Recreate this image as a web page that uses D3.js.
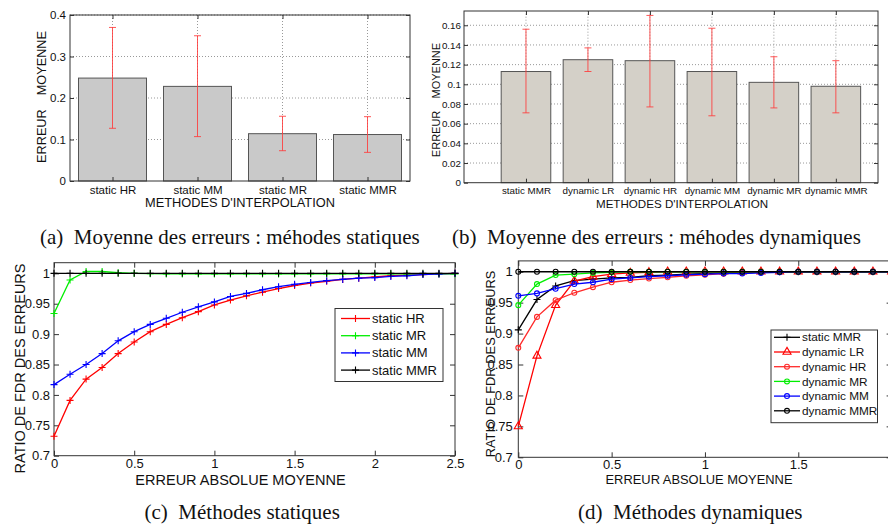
<!DOCTYPE html>
<html>
<head>
<meta charset="utf-8">
<script src="https://cdn.jsdelivr.net/npm/d3@7"></script>
<style>
body{margin:0;background:#fff}
svg{display:block}
text{font-family:"Liberation Sans",Arial,sans-serif;fill:#111}
.cap{font-family:"Liberation Serif","Times New Roman",serif;white-space:pre}
.pre{white-space:pre}
</style>
</head>
<body>
<svg id="fig" width="888" height="524"></svg>
<script>
// ---- données (a) : méthodes statiques
var catsA = ["static HR", "static MM", "static MR", "static MMR"];
var meanA = [0.248, 0.228, 0.114, 0.112];
var lowA  = [0.127, 0.107, 0.073, 0.069];
var highA = [0.370, 0.350, 0.156, 0.155];
var yTicksA = [0, 0.1, 0.2, 0.3, 0.4];
var yLabelsA = ["0", "0.1", "0.2", "0.3", "0.4"];

// ---- données (b) : méthodes dynamiques
var catsB = ["static MMR", "dynamic LR", "dynamic HR", "dynamic MM", "dynamic MR", "dynamic MMR"];
var meanB = [0.113, 0.125, 0.124, 0.113, 0.102, 0.098];
var lowB  = [0.071, 0.113, 0.077, 0.068, 0.076, 0.071];
var highB = [0.156, 0.137, 0.170, 0.157, 0.128, 0.124];
var yTicksB = [0, 0.02, 0.04, 0.06, 0.08, 0.1, 0.12, 0.14, 0.16];
var yLabelsB = ["0", "0.02", "0.04", "0.06", "0.08", "0.1", "0.12", "0.14", "0.16"];

// ---- données (c)
var xsC = [0, 0.1, 0.2, 0.3, 0.4, 0.5, 0.6, 0.7, 0.8, 0.9, 1.0, 1.1, 1.2, 1.3, 1.4, 1.5, 1.6, 1.7, 1.8, 1.9, 2.0, 2.1, 2.2, 2.3, 2.4, 2.5];
var staticHR  = [0.732, 0.791, 0.826, 0.845, 0.868, 0.887, 0.904, 0.916, 0.927, 0.937, 0.948, 0.956, 0.963, 0.969, 0.975, 0.980, 0.984, 0.987, 0.990, 0.992, 0.994, 0.996, 0.997, 0.998, 0.999, 1.000];
var staticMR  = [0.934, 0.989, 1.003, 1.003, 1.001, 1.000, 0.9995, 0.999, 0.999, 0.999, 0.999, 0.999, 0.999, 0.999, 0.999, 0.999, 0.999, 0.999, 0.999, 0.999, 0.999, 0.999, 0.999, 0.999, 0.999, 0.999];
var staticMM  = [0.817, 0.834, 0.850, 0.868, 0.889, 0.904, 0.916, 0.926, 0.936, 0.945, 0.953, 0.962, 0.967, 0.973, 0.978, 0.982, 0.985, 0.988, 0.990, 0.992, 0.993, 0.995, 0.996, 0.998, 0.999, 1.000];
var staticMMR = [1, 1, 1, 1, 1, 1, 1, 1, 1, 1, 1, 1, 1, 1, 1, 1, 1, 1, 1, 1, 1, 1, 1, 1, 1, 1];

// ---- données (d)
var xsD = [0, 0.1, 0.2, 0.3, 0.4, 0.5, 0.6, 0.7, 0.8, 0.9, 1.0, 1.1, 1.2, 1.3, 1.4, 1.5, 1.6, 1.7, 1.8, 1.9, 2.0];
var dStaticMMR = [0.906, 0.955, 0.977, 0.9855, 0.988, 0.990, 0.991, 0.9935, 0.9946, 0.996, 0.997, 0.998, 0.999, 1, 1, 1, 1, 1, 1, 1, 1];
var dynLR  = [0.750, 0.864, 0.946, 0.985, 0.992, 0.996, 0.998, 0.999, 1, 1, 1, 1, 1, 1, 1, 1, 1, 1, 1, 1, 1];
var dynHR  = [0.877, 0.927, 0.954, 0.966, 0.975, 0.983, 0.9865, 0.989, 0.991, 0.9935, 0.995, 0.9968, 0.998, 0.999, 0.9995, 1, 1, 1, 1, 1, 1];
var dynMR  = [0.946, 0.980, 0.9946, 0.996, 0.998, 0.999, 1, 1, 1, 1, 1, 1, 1, 1, 1, 1, 1, 1, 1, 1, 1];
var dynMM  = [0.961, 0.965, 0.9725, 0.980, 0.983, 0.988, 0.990, 0.992, 0.9935, 0.995, 0.996, 0.997, 0.997, 0.998, 0.999, 1, 1, 1, 1, 1, 1];
var dynMMR = [1, 1, 1, 1, 1, 1, 1, 1, 1, 1, 1, 1, 1, 1, 1, 1, 1, 1, 1, 1, 1];

var yTicksL = [0.7, 0.75, 0.8, 0.85, 0.9, 0.95, 1];
var yLabelsL = ["0.7", "0.75", "0.8", "0.85", "0.9", "0.95", "1"];
var xTicksC = [0, 0.5, 1, 1.5, 2, 2.5];
var xLabelsC = ["0", "0.5", "1", "1.5", "2", "2.5"];
var xTicksD = [0, 0.5, 1, 1.5];
var xLabelsD = ["0", "0.5", "1", "1.5"];

var svg = d3.select("#fig");

// cadre + graduations vers l'intérieur (style matlab)
function frameAxes(g, x, y, o) {
    var xr = x.range(), yr = y.range();
    function fix(sel) {
        sel.attr("font-size", null).attr("font-family", null);
        sel.select(".domain").remove();
        sel.selectAll(".tick line").attr("stroke", "#333");
        sel.selectAll("text").style("font-size", o.fs + "px").attr("fill", "#111");
    }
    g.append("g").attr("transform", "translate(0," + yr[0] + ")")
        .call(d3.axisBottom(x).tickValues(o.xt).tickFormat(function(d, i) { return o.xl ? o.xl[i] : ""; })
            .tickSizeInner(-o.tk).tickSizeOuter(0).tickPadding(o.padX)).call(fix);
    g.append("g").attr("transform", "translate(0," + yr[1] + ")")
        .call(d3.axisTop(x).tickValues(o.xt).tickFormat("").tickSizeInner(-o.tk).tickSizeOuter(0)).call(fix);
    g.append("g").attr("transform", "translate(" + xr[0] + ",0)")
        .call(d3.axisLeft(y).tickValues(o.yt).tickFormat(function(d, i) { return o.yl[i]; })
            .tickSizeInner(-o.tk).tickSizeOuter(0).tickPadding(o.padY)).call(fix);
    g.append("g").attr("transform", "translate(" + xr[1] + ",0)")
        .call(d3.axisRight(y).tickValues(o.yt).tickFormat("").tickSizeInner(-o.tk).tickSizeOuter(0)).call(fix);
    g.append("rect")
        .attr("x", xr[0]).attr("y", yr[1])
        .attr("width", xr[1] - xr[0]).attr("height", yr[0] - yr[1])
        .attr("fill", "none").attr("stroke", "#333").attr("stroke-width", 1);
}

function barPanel(p) {
    var x = d3.scaleLinear().domain(p.xDom).range(p.xRange);
    var y = d3.scaleLinear().domain(p.yDom).range(p.yRange);
    var g = svg.append("g");
    var pos = p.cats.map(function(c, i) { return i + 1; });

    // grille pointillée
    g.selectAll(".hg").data(p.yTicks.slice(1)).enter().append("line")
        .attr("x1", p.xRange[0]).attr("x2", p.xRange[1])
        .attr("y1", function(d) { return y(d); }).attr("y2", function(d) { return y(d); })
        .attr("stroke", "#999").attr("stroke-dasharray", "1,2");
    g.selectAll(".vg").data(pos).enter().append("line")
        .attr("x1", function(d) { return x(d); }).attr("x2", function(d) { return x(d); })
        .attr("y1", p.yRange[0]).attr("y2", p.yRange[1])
        .attr("stroke", "#999").attr("stroke-dasharray", "1,2");

    g.selectAll(".bar").data(p.mean).enter().append("rect")
        .attr("x", function(d, i) { return x(pos[i] - 0.4); })
        .attr("width", x(0.8) - x(0))
        .attr("y", function(d) { return y(d); })
        .attr("height", function(d) { return y(0) - y(d); })
        .attr("fill", p.fill).attr("stroke", "#555").attr("stroke-width", 1);

    // barres d'erreur
    var eb = g.selectAll(".err").data(p.mean).enter().append("g").attr("stroke", "#ff3b3b").attr("stroke-opacity", 0.85);
    eb.append("line")
        .attr("x1", function(d, i) { return x(pos[i]); }).attr("x2", function(d, i) { return x(pos[i]); })
        .attr("y1", function(d, i) { return y(p.low[i]); }).attr("y2", function(d, i) { return y(p.high[i]); });
    eb.append("line")
        .attr("x1", function(d, i) { return x(pos[i]) - p.cw; }).attr("x2", function(d, i) { return x(pos[i]) + p.cw; })
        .attr("y1", function(d, i) { return y(p.low[i]); }).attr("y2", function(d, i) { return y(p.low[i]); });
    eb.append("line")
        .attr("x1", function(d, i) { return x(pos[i]) - p.cw; }).attr("x2", function(d, i) { return x(pos[i]) + p.cw; })
        .attr("y1", function(d, i) { return y(p.high[i]); }).attr("y2", function(d, i) { return y(p.high[i]); });

    frameAxes(g, x, y, {xt: pos, xl: p.cats, yt: p.yTicks, yl: p.yLabels, fs: p.fs, padX: p.padX, padY: p.padY, tk: 4});

    g.append("text").attr("x", p.xLabX).attr("y", p.xLabY).attr("text-anchor", "middle")
        .style("font-size", p.labFs + "px").text("METHODES D'INTERPOLATION");
    g.append("text").attr("class", "pre")
        .attr("transform", "translate(" + p.yLabX + "," + p.yLabY + ") rotate(-90)")
        .attr("text-anchor", "middle").style("font-size", p.yLabFs + "px")
        .text("ERREUR    MOYENNE");
}

function linePanel(p) {
    var x = d3.scaleLinear().domain(p.xDom).range(p.xRange);
    var y = d3.scaleLinear().domain(p.yDom).range(p.yRange);
    var g = svg.append("g");
    frameAxes(g, x, y, {xt: p.xTicks, xl: p.xLabels, yt: yTicksL, yl: yLabelsL, fs: p.fs, padX: p.padX, padY: p.padY, tk: 5});

    var line = d3.line().x(function(d) { return x(d[0]); }).y(function(d) { return y(d[1]); });
    p.series.forEach(function(s) {
        var pts = p.xs.map(function(v, i) { return [v, s.values[i]]; });
        g.append("path").attr("d", line(pts)).attr("fill", "none")
            .attr("stroke", s.color).attr("stroke-width", 1.3);
        g.selectAll(null).data(pts).enter().append("path")
            .attr("transform", function(d) { return "translate(" + x(d[0]) + "," + y(d[1]) + ")"; })
            .attr("d", markerPath(s.marker))
            .attr("fill", "none").attr("stroke", s.color).attr("stroke-width", 1.1);
    });

    // légende
    var lg = p.legend;
    g.append("rect").attr("x", lg.x).attr("y", lg.y).attr("width", lg.w).attr("height", lg.h)
        .attr("fill", "#fff").attr("stroke", "#333");
    p.series.forEach(function(s, i) {
        var yy = lg.y + lg.first + i * lg.step;
        g.append("line").attr("x1", lg.l1).attr("x2", lg.l2).attr("y1", yy).attr("y2", yy)
            .attr("stroke", s.color).attr("stroke-width", 1.3);
        g.append("path").attr("transform", "translate(" + (lg.l1 + lg.l2) / 2 + "," + yy + ")")
            .attr("d", markerPath(s.marker)).attr("fill", "none").attr("stroke", s.color).attr("stroke-width", 1.1);
        g.append("text").attr("x", lg.tx).attr("y", yy).attr("dy", "0.35em")
            .style("font-size", lg.fs + "px").text(s.name);
    });

    g.append("text").attr("x", p.xLabX).attr("y", p.xLabY).attr("text-anchor", "middle")
        .style("font-size", p.labFs + "px").text("ERREUR ABSOLUE MOYENNE");
    g.append("text")
        .attr("transform", "translate(" + p.yLabX + "," + p.yLabY + ") rotate(-90)")
        .attr("text-anchor", "middle").style("font-size", p.labFs + "px")
        .text("RATIO DE FDR DES ERREURS");
}

function markerPath(m) {
    if (m === "+") return "M-3.5,0H3.5M0,-3.5V3.5";
    if (m === "o") return d3.symbol(d3.symbolCircle, 19)();
    return d3.symbol(d3.symbolTriangle, 28)();
}

barPanel({
    cats: catsA, mean: meanA, low: lowA, high: highA, yTicks: yTicksA, yLabels: yLabelsA,
    xDom: [0.5, 4.5], xRange: [70, 410], yDom: [0, 0.4], yRange: [181, 15],
    fill: "#c9c9c9", cw: 3.5, fs: 11.5, padX: 5, padY: 4,
    labFs: 12.8, xLabX: 240, xLabY: 206.5, yLabX: 46, yLabY: 97, yLabFs: 12.7
});

barPanel({
    cats: catsB, mean: meanB, low: lowB, high: highB, yTicks: yTicksB, yLabels: yLabelsB,
    xDom: [0, 6.68], xRange: [464, 878], yDom: [0, 0.1745], yRange: [182.7, 11],
    fill: "#d4d0c8", cw: 3.5, fs: 9.8, padX: 4.5, padY: 3,
    labFs: 11.6, xLabX: 682, xLabY: 207.5, yLabX: 440, yLabY: 100, yLabFs: 11
});

linePanel({
    xs: xsC, xDom: [0, 2.5], xRange: [54, 455], yDom: [0.7, 1.0175], yRange: [455.7, 262.7],
    xTicks: xTicksC, xLabels: xLabelsC, fs: 13, padX: 3, padY: 4,
    series: [
        {name: "static HR", values: staticHR, color: "#ff0000", marker: "+"},
        {name: "static MR", values: staticMR, color: "#00ee00", marker: "+"},
        {name: "static MM", values: staticMM, color: "#0000ff", marker: "+"},
        {name: "static MMR", values: staticMMR, color: "#000000", marker: "+"}
    ],
    legend: {x: 335, y: 308.5, w: 108, h: 73, first: 10, step: 17.2, l1: 341, l2: 370, tx: 372, fs: 13},
    labFs: 14.5, xLabX: 240.5, xLabY: 485, yLabX: 25, yLabY: 368.5
});

linePanel({
    xs: xsD, xDom: [0, 2], xRange: [518.3, 891.6], yDom: [0.7, 1.0175], yRange: [457.3, 260.9],
    xTicks: xTicksD, xLabels: xLabelsD, fs: 13, padX: 2, padY: 5.5,
    series: [
        {name: "static MMR", values: dStaticMMR, color: "#000000", marker: "+"},
        {name: "dynamic LR", values: dynLR, color: "#ff0000", marker: "^"},
        {name: "dynamic HR", values: dynHR, color: "#ff2a2a", marker: "o"},
        {name: "dynamic MR", values: dynMR, color: "#00ee00", marker: "o"},
        {name: "dynamic MM", values: dynMM, color: "#0000ff", marker: "o"},
        {name: "dynamic MMR", values: dynMMR, color: "#000000", marker: "o"}
    ],
    legend: {x: 771, y: 330, w: 106.5, h: 92.7, first: 7.3, step: 14.7, l1: 774, l2: 800, tx: 802, fs: 11.8},
    labFs: 12.9, xLabX: 699, xLabY: 483.6, yLabX: 494.6, yLabY: 364
});

// légendes des sous-figures
var captions = [
    {t: "(a)  Moyenne des erreurs : méhodes statiques", x: 40, y: 243.5},
    {t: "(b)  Moyenne des erreurs : méhodes dynamiques", x: 452, y: 243.5},
    {t: "(c)  Méthodes statiques", x: 144.5, y: 519},
    {t: "(d)  Méthodes dynamiques", x: 578, y: 519}
];
svg.selectAll(".cap").data(captions).enter().append("text")
    .attr("class", "cap").attr("x", function(d) { return d.x; }).attr("y", function(d) { return d.y; })
    .style("font-size", "21px").text(function(d) { return d.t; });
</script>
</body>
</html>
